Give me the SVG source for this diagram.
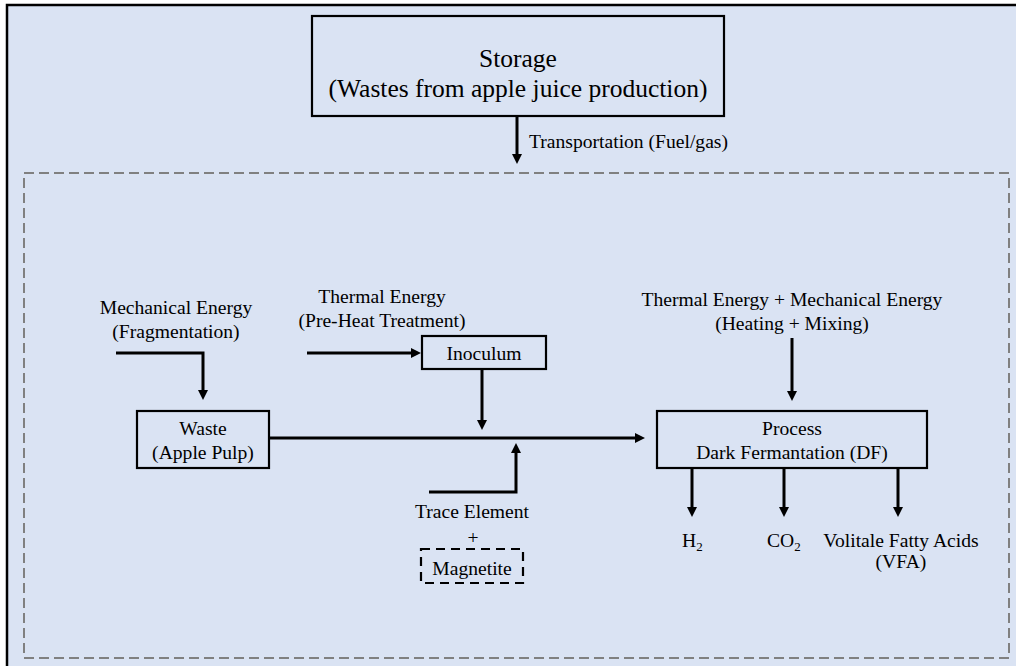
<svg xmlns="http://www.w3.org/2000/svg" width="1016" height="666" viewBox="0 0 1016 666">
  <style>
    text { font-family: "Liberation Serif", "Times New Roman", Times, serif; fill: #000; }
    .sm { font-size: 19.6px; }
    .lg { font-size: 25.5px; }
    .box { fill: none; stroke: #000; stroke-width: 2.2; }
    .conn { fill: none; stroke: #000; stroke-width: 3; }
  </style>
  <defs>
    <marker id="ah" markerUnits="userSpaceOnUse" markerWidth="10" markerHeight="10" viewBox="0 0 10 10" refX="0" refY="5" orient="auto">
      <path d="M0,0 L10,5 L0,10 z" fill="#000"/>
    </marker>
  </defs>
  <rect x="0" y="0" width="1016" height="666" fill="#ffffff"/>
  <rect id="frame" x="7" y="5" width="1030" height="680" fill="#dae3f3" stroke="#000" stroke-width="2.5"/>
  <rect id="system" x="24" y="173" width="985" height="485" fill="none" stroke="#808080" stroke-width="2" stroke-dasharray="10 5"/>

  <g id="storage">
    <rect class="box" x="312" y="16" width="412" height="100"/>
    <text class="lg" x="518" y="67" text-anchor="middle">Storage</text>
    <text class="lg" x="518" y="97" text-anchor="middle">(Wastes from apple juice production)</text>
  </g>
  <g id="transport-label">
    <text class="sm" x="529" y="148">Transportation (Fuel/gas)</text>
  </g>
  <g id="mechanical">
    <text class="sm" x="176" y="314" text-anchor="middle">Mechanical Energy</text>
    <text class="sm" x="176" y="338" text-anchor="middle">(Fragmentation)</text>
  </g>
  <g id="thermal">
    <text class="sm" x="382" y="303" text-anchor="middle">Thermal Energy</text>
    <text class="sm" x="382" y="327" text-anchor="middle">(Pre-Heat Treatment)</text>
  </g>
  <g id="inoculum">
    <rect class="box" x="422" y="336" width="124" height="33"/>
    <text class="sm" x="484" y="360" text-anchor="middle">Inoculum</text>
  </g>
  <g id="waste">
    <rect class="box" x="137" y="411" width="132" height="57"/>
    <text class="sm" x="203" y="435" text-anchor="middle">Waste</text>
    <text class="sm" x="203" y="459" text-anchor="middle">(Apple Pulp)</text>
  </g>
  <g id="thermal-mechanical">
    <text class="sm" x="792" y="306" text-anchor="middle">Thermal Energy + Mechanical Energy</text>
    <text class="sm" x="792" y="330" text-anchor="middle">(Heating + Mixing)</text>
  </g>
  <g id="process">
    <rect class="box" x="657" y="411" width="270" height="57"/>
    <text class="sm" x="792" y="435" text-anchor="middle">Process</text>
    <text class="sm" x="792" y="459" text-anchor="middle">Dark Fermantation (DF)</text>
  </g>
  <g id="trace">
    <text class="sm" x="472" y="518" text-anchor="middle">Trace Element</text>
    <text class="sm" x="473" y="544" text-anchor="middle">+</text>
  </g>
  <g id="magnetite">
    <rect class="box" x="421" y="549" width="102" height="34" stroke-dasharray="9 6"/>
    <text class="sm" x="472" y="575" text-anchor="middle">Magnetite</text>
  </g>
  <g id="h2">
    <text class="sm" x="682" y="547">H<tspan font-size="13" dy="4">2</tspan></text>
  </g>
  <g id="co2">
    <text class="sm" x="767" y="547">CO<tspan font-size="13" dy="4">2</tspan></text>
  </g>
  <g id="vfa">
    <text class="sm" x="901" y="547" text-anchor="middle">Volitale Fatty Acids</text>
    <text class="sm" x="901" y="568" text-anchor="middle">(VFA)</text>
  </g>

  <g id="connectors">
    <path class="conn" d="M517,116 V154" marker-end="url(#ah)"/>
    <path class="conn" d="M116,353 H203 V390" marker-end="url(#ah)"/>
    <path class="conn" d="M307,353 H411" marker-end="url(#ah)"/>
    <path class="conn" d="M482,369 V420" marker-end="url(#ah)"/>
    <path class="conn" d="M269,438 H635" marker-end="url(#ah)"/>
    <path class="conn" d="M429,492 H516 V453" marker-end="url(#ah)"/>
    <path class="conn" d="M792,338 V391" marker-end="url(#ah)"/>
    <path class="conn" d="M692,468 V507" marker-end="url(#ah)"/>
    <path class="conn" d="M784,468 V507" marker-end="url(#ah)"/>
    <path class="conn" d="M898,468 V507" marker-end="url(#ah)"/>
  </g>
</svg>
